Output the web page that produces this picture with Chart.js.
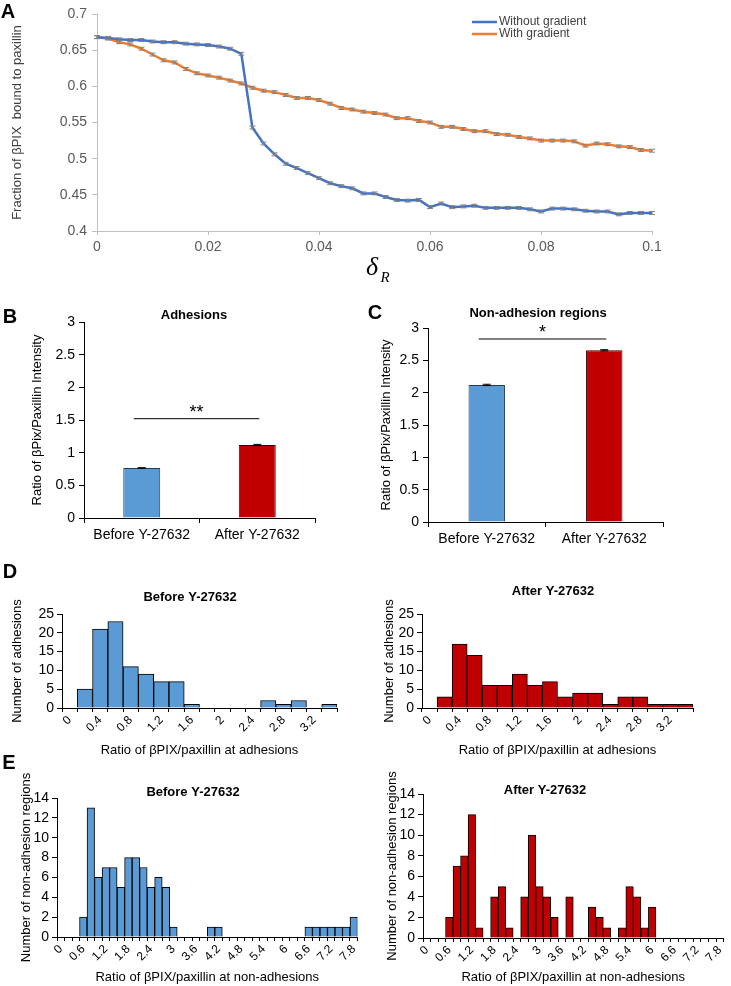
<!DOCTYPE html>
<html>
<head>
<meta charset="utf-8">
<script src="https://cdn.jsdelivr.net/npm/chart.js@4.4.1/dist/chart.umd.min.js"></script>
<style>
body { margin: 0; background: #fff; width: 731px; height: 986px; position: relative; overflow: hidden; }
.panel { position: absolute; }
</style>
</head>
<body>
<div class="panel" style="left:0;top:0;width:731px;height:290px"><canvas id="chartA"></canvas></div>
<div class="panel" style="left:0;top:300px;width:345px;height:250px"><canvas id="chartB"></canvas></div>
<div class="panel" style="left:345px;top:300px;width:386px;height:250px"><canvas id="chartC"></canvas></div>
<div class="panel" style="left:0;top:560px;width:365px;height:200px"><canvas id="chartD1"></canvas></div>
<div class="panel" style="left:365px;top:560px;width:366px;height:200px"><canvas id="chartD2"></canvas></div>
<div class="panel" style="left:0;top:750px;width:365px;height:236px"><canvas id="chartE1"></canvas></div>
<div class="panel" style="left:365px;top:750px;width:366px;height:236px"><canvas id="chartE2"></canvas></div>
<script>
// panel A: fraction of bPIX bound to paxillin vs deltaR
const deltaR = [0, 0.002, 0.004, 0.006, 0.008, 0.01, 0.012, 0.014, 0.016, 0.018,
  0.02, 0.022, 0.024, 0.026, 0.028, 0.03, 0.032, 0.034, 0.036, 0.038,
  0.04, 0.042, 0.044, 0.046, 0.048, 0.05, 0.052, 0.054, 0.056, 0.058,
  0.06, 0.062, 0.064, 0.066, 0.068, 0.07, 0.072, 0.074, 0.076, 0.078,
  0.08, 0.082, 0.084, 0.086, 0.088, 0.09, 0.092, 0.094, 0.096, 0.098, 0.1];
const withoutGradient = [0.668, 0.667, 0.665, 0.664, 0.664, 0.662, 0.661, 0.661, 0.659, 0.658,
  0.657, 0.655, 0.652, 0.645, 0.543, 0.521, 0.506, 0.493, 0.487, 0.480,
  0.473, 0.466, 0.462, 0.459, 0.452, 0.452, 0.447, 0.443, 0.442, 0.443,
  0.433, 0.438, 0.433, 0.434, 0.435, 0.432, 0.432, 0.432, 0.432, 0.430,
  0.427, 0.431, 0.431, 0.430, 0.428, 0.427, 0.427, 0.423, 0.425, 0.425, 0.425];
const withGradient = [0.668, 0.666, 0.661, 0.658, 0.652, 0.644, 0.636, 0.633, 0.624, 0.618,
  0.615, 0.612, 0.608, 0.604, 0.598, 0.594, 0.592, 0.588, 0.584, 0.584,
  0.581, 0.576, 0.570, 0.568, 0.565, 0.563, 0.561, 0.556, 0.556, 0.552,
  0.550, 0.544, 0.544, 0.541, 0.538, 0.538, 0.534, 0.533, 0.530, 0.528,
  0.525, 0.525, 0.525, 0.524, 0.518, 0.521, 0.520, 0.517, 0.516, 0.512, 0.511];
const errA = 0.002;

// panels B and C: mean ratio before/after Y-27632
const treatments = ['Before Y-27632', 'After Y-27632'];
const adhesionRatio = [0.765, 1.117];
const adhesionErr = [0.005, 0.01];
const nonAdhesionRatio = [2.12, 2.655];
const nonAdhesionErr = [0.01, 0.01];

// panel D: histograms at adhesions
const dBins = ['0', '0.2', '0.4', '0.6', '0.8', '1', '1.2', '1.4', '1.6', '1.8', '2', '2.2', '2.4', '2.6', '2.8', '3', '3.2', '3.4'];
const dBefore = [0, 5, 21, 23, 11, 9, 7, 7, 1, 0, 0, 0, 0, 2, 1, 2, 0, 1];
const dAfter = [0, 3, 17, 14, 6, 6, 9, 6, 7, 3, 4, 4, 1, 3, 3, 1, 1, 1];

// panel E: histograms at non-adhesions
const eBins = ['0', '0.2', '0.4', '0.6', '0.8', '1', '1.2', '1.4', '1.6', '1.8',
  '2', '2.2', '2.4', '2.6', '2.8', '3', '3.2', '3.4', '3.6', '3.8',
  '4', '4.2', '4.4', '4.6', '4.8', '5', '5.2', '5.4', '5.6', '5.8',
  '6', '6.2', '6.4', '6.6', '6.8', '7', '7.2', '7.4', '7.6', '7.8'];
const eBefore = [0, 0, 0, 2, 13, 6, 7, 7, 5, 8, 8, 7, 5, 6, 5, 1, 0, 0, 0, 0,
  1, 1, 0, 0, 0, 0, 0, 0, 0, 0, 0, 0, 0, 1, 1, 1, 1, 1, 1, 2];
const eAfter = [0, 0, 0, 2, 7, 8, 12, 1, 0, 4, 5, 1, 0, 4, 10, 5, 4, 2, 0, 4,
  0, 0, 3, 2, 1, 0, 1, 5, 4, 1, 3, 0, 0, 0, 0, 0, 0, 0, 0, 0];

const BLUE = '#5B9BD5';
const RED = '#C00000';
Chart.defaults.font.family = "'Liberation Sans', Arial, sans-serif";
Chart.defaults.color = '#000';
Chart.defaults.animation = false;

// free text: panel letters, titles, delta_R
const figureText = {
  id: 'figureText',
  afterDraw(chart, args, opts) {
    const ctx = chart.ctx;
    (opts.items || []).forEach(t => {
      ctx.save();
      ctx.font = t.font;
      ctx.fillStyle = t.color || '#000';
      ctx.textAlign = t.align || 'center';
      ctx.textBaseline = 'middle';
      ctx.fillText(t.text, t.x, t.y);
      ctx.restore();
    });
  }
};

const errorBars = {
  id: 'errorBars',
  afterDatasetsDraw(chart) {
    const ctx = chart.ctx, ys = chart.scales.y;
    chart.data.datasets.forEach((ds, i) => {
      if (!ds.errors) return;
      const meta = chart.getDatasetMeta(i);
      ctx.save();
      ctx.strokeStyle = ds.errorColor || '#808080';
      ctx.lineWidth = 1;
      meta.data.forEach((el, j) => {
        const v = typeof ds.data[j] === 'object' ? ds.data[j].y : ds.data[j];
        const e = ds.errors[j];
        const y1 = ys.getPixelForValue(v - e), y2 = ys.getPixelForValue(v + e);
        const cap = ds.errorCap || 3;
        ctx.beginPath();
        ctx.moveTo(el.x, y1); ctx.lineTo(el.x, y2);
        ctx.moveTo(el.x - cap, y1); ctx.lineTo(el.x + cap, y1);
        ctx.moveTo(el.x - cap, y2); ctx.lineTo(el.x + cap, y2);
        ctx.stroke();
      });
      ctx.restore();
    });
  }
};

// significance bar between the two categories
const sigBar = {
  id: 'sigBar',
  afterDraw(chart, args, opts) {
    if (!opts.text) return;
    const ctx = chart.ctx, xs = chart.scales.x, ys = chart.scales.y;
    const y = ys.getPixelForValue(opts.value);
    ctx.save();
    ctx.strokeStyle = '#000';
    ctx.lineWidth = 1;
    ctx.beginPath();
    ctx.moveTo(xs.getPixelForValue(0) - 8, y);
    ctx.lineTo(xs.getPixelForValue(1) + 2, y);
    ctx.stroke();
    ctx.font = '18px "Liberation Sans", Arial';
    ctx.fillStyle = '#000';
    ctx.textAlign = 'center';
    ctx.textBaseline = 'alphabetic';
    ctx.fillText(opts.text, (xs.getPixelForValue(0) + xs.getPixelForValue(1)) / 2 - 3, y - 1);
    ctx.restore();
  }
};

const lineLegend = {
  id: 'lineLegend',
  afterDraw(chart, args, opts) {
    if (!opts.x) return;
    const ctx = chart.ctx;
    chart.data.datasets.forEach((ds, i) => {
      const y = opts.y + i * opts.gap;
      ctx.save();
      ctx.strokeStyle = ds.borderColor;
      ctx.lineWidth = 2.5;
      ctx.beginPath();
      ctx.moveTo(opts.x, y); ctx.lineTo(opts.x + 25, y);
      ctx.stroke();
      ctx.font = '12px "Liberation Sans", Arial';
      ctx.fillStyle = '#404040';
      ctx.textAlign = 'left';
      ctx.textBaseline = 'middle';
      ctx.fillText(ds.label, opts.x + 27, y);
      ctx.restore();
    });
  }
};

const num = v => String(Number(v.toFixed(2)));

new Chart(document.getElementById('chartA'), {
  type: 'line',
  data: {
    datasets: [
      { label: 'Without gradient', data: deltaR.map((x, i) => ({ x, y: withoutGradient[i] })),
        borderColor: '#4472C4', backgroundColor: '#4472C4', errors: withoutGradient.map(() => errA) },
      { label: 'With gradient', data: deltaR.map((x, i) => ({ x, y: withGradient[i] })),
        borderColor: '#ED7D31', backgroundColor: '#ED7D31', errors: withGradient.map(() => errA) }
    ]
  },
  options: {
    responsive: true, maintainAspectRatio: false,
    layout: { padding: { top: 14, right: 79, left: 0, bottom: 0 } },
    elements: { point: { radius: 0 }, line: { tension: 0, borderWidth: 2.5 } },
    plugins: {
      legend: { display: false }, tooltip: { enabled: false },
      lineLegend: { x: 472, y: 22, gap: 12 },
      figureText: { items: [
        { text: 'A', x: 8, y: 12, font: 'bold 20px "Liberation Sans", Arial' },
        { text: 'δ', x: 372, y: 268, font: 'italic 26px "Liberation Serif", serif' },
        { text: 'R', x: 385, y: 278, font: 'italic 15px "Liberation Serif", serif' }
      ] }
    },
    scales: {
      x: {
        type: 'linear', min: 0, max: 0.1,
        afterFit: s => { s.height = 59; },
        ticks: { stepSize: 0.02, callback: num, font: { size: 14 }, color: '#595959', padding: 4 },
        grid: { drawOnChartArea: false, tickLength: 4, color: '#bfbfbf' },
        border: { color: '#bfbfbf' }
      },
      y: {
        min: 0.4, max: 0.7,
        afterFit: s => { s.width = 97; },
        ticks: { stepSize: 0.05, callback: num, font: { size: 14 }, color: '#595959', padding: 5, autoSkip: false },
        grid: { drawOnChartArea: false, tickLength: 5, color: '#bfbfbf' },
        border: { color: '#bfbfbf' },
        title: { display: true, text: 'Fraction of βPIX  bound to paxillin', font: { size: 13 }, color: '#404040', padding: { top: 10, bottom: 0 } }
      }
    }
  },
  plugins: [errorBars, figureText, lineLegend]
});

function ratioChart(id, values, errs, o) {
  return new Chart(document.getElementById(id), {
    type: 'bar',
    data: {
      labels: treatments,
      datasets: [{ data: values, errors: errs, errorColor: '#000', errorCap: 4,
        backgroundColor: [BLUE, RED], borderColor: ['#1f3b5c', '#400000'], borderWidth: 1,
        barPercentage: o.bar, categoryPercentage: 1 }]
    },
    options: {
      responsive: true, maintainAspectRatio: false,
      layout: { padding: { top: o.top, right: o.right, left: 0, bottom: 0 } },
      plugins: {
        legend: { display: false }, tooltip: { enabled: false },
        sigBar: { value: o.sig, text: o.star },
        figureText: { items: o.items }
      },
      scales: {
        x: {
          afterFit: s => { s.height = o.xh; },
          ticks: { font: { size: 14 }, color: '#000', padding: 4 },
          grid: { drawOnChartArea: false, tickLength: 5, color: '#000' },
          border: { color: '#000' }
        },
        y: {
          min: 0, max: 3,
          afterFit: s => { s.width = o.yw; },
          ticks: { stepSize: 0.5, callback: num, font: { size: 14 }, color: '#000', padding: 4, autoSkip: false },
          grid: { drawOnChartArea: false, tickLength: 5, color: '#000' },
          border: { color: '#000' },
          title: { display: true, text: 'Ratio of βPix/Paxillin Intensity', font: { size: 13 }, color: '#000', padding: { top: o.tp, bottom: 0 } }
        }
      }
    },
    plugins: [errorBars, sigBar, figureText]
  });
}

ratioChart('chartB', adhesionRatio, adhesionErr, {
  bar: 0.32, top: 22, right: 30, xh: 32, yw: 84, tp: 30, sig: 1.52, star: '**',
  items: [
    { text: 'B', x: 10, y: 17, font: 'bold 20px "Liberation Sans", Arial' },
    { text: 'Adhesions', x: 194, y: 15, font: 'bold 13px "Liberation Sans", Arial' }
  ]
});
ratioChart('chartC', nonAdhesionRatio, nonAdhesionErr, {
  bar: 0.31, top: 28, right: 68, xh: 28, yw: 83, tp: 34, sig: 2.83, star: '*',
  items: [
    { text: 'C', x: 30, y: 13, font: 'bold 20px "Liberation Sans", Arial' },
    { text: 'Non-adhesion regions', x: 193, y: 13, font: 'bold 13px "Liberation Sans", Arial' }
  ]
});

function histChart(id, bins, counts, color, o) {
  return new Chart(document.getElementById(id), {
    type: 'bar',
    data: {
      labels: bins,
      datasets: [{ data: counts, backgroundColor: color, borderColor: '#000', borderWidth: 1,
        barPercentage: 1, categoryPercentage: 1 }]
    },
    options: {
      responsive: true, maintainAspectRatio: false,
      layout: { padding: { top: o.top, right: o.right, left: 0, bottom: 0 } },
      plugins: { legend: { display: false }, tooltip: { enabled: false }, figureText: { items: o.items } },
      scales: {
        x: {
          afterFit: s => { s.height = o.xh; },
          ticks: { autoSkip: false, minRotation: 45, maxRotation: 45, font: { size: 12 }, color: '#000', padding: 1,
            callback: (v, i) => (i % o.every === 0 ? bins[i] : '') },
          grid: { drawOnChartArea: false, tickLength: 4, color: '#000' },
          border: { color: '#000' },
          title: { display: true, text: o.xTitle, font: { size: 13 }, color: '#000', padding: { top: 0, bottom: o.bp } }
        },
        y: {
          min: 0, max: o.ymax,
          afterFit: s => { s.width = o.yw; },
          ticks: { stepSize: o.step, font: { size: 14 }, color: '#000', padding: 3, autoSkip: false },
          grid: { drawOnChartArea: false, tickLength: 5, color: '#000' },
          border: { color: '#000' },
          title: { display: true, text: o.yTitle, font: { size: 13 }, color: '#000', padding: { top: o.tp, bottom: 0 } }
        }
      }
    },
    plugins: [figureText]
  });
}

const titleFont = 'bold 13px "Liberation Sans", Arial';
histChart('chartD1', dBins, dBefore, BLUE, {
  top: 54, right: 28, xh: 52, yw: 62, tp: 10, bp: 2, ymax: 25, step: 5, every: 2,
  xTitle: 'Ratio of βPIX/paxillin at adhesions', yTitle: 'Number of adhesions',
  items: [
    { text: 'D', x: 10, y: 12, font: 'bold 20px "Liberation Sans", Arial' },
    { text: 'Before Y-27632', x: 190, y: 37, font: titleFont }
  ]
});
histChart('chartD2', dBins, dAfter, RED, {
  top: 54, right: 38, xh: 52, yw: 57, tp: 17, bp: 2, ymax: 25, step: 5, every: 2,
  xTitle: 'Ratio of βPIX/paxillin at adhesions', yTitle: 'Number of adhesions',
  items: [{ text: 'After Y-27632', x: 188, y: 31, font: titleFont }]
});
histChart('chartE1', eBins, eBefore, BLUE, {
  top: 48, right: 5, xh: 49, yw: 57, tp: 19, bp: 1, ymax: 14, step: 2, every: 3,
  xTitle: 'Ratio of βPIX/paxillin at non-adhesions', yTitle: 'Number of non-adhesion regions',
  items: [
    { text: 'E', x: 9, y: 13, font: 'bold 20px "Liberation Sans", Arial' },
    { text: 'Before Y-27632', x: 193, y: 42, font: titleFont }
  ]
});
histChart('chartE2', eBins, eAfter, RED, {
  top: 44, right: 4, xh: 48, yw: 58, tp: 20, bp: 1, ymax: 14, step: 2, every: 3,
  xTitle: 'Ratio of βPIX/paxillin at non-adhesions', yTitle: 'Number of non-adhesion regions',
  items: [{ text: 'After Y-27632', x: 180, y: 40, font: titleFont }]
});
</script>
</body>
</html>
